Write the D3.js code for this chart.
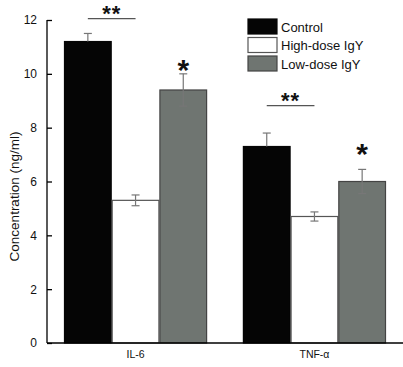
<!DOCTYPE html>
<html>
<head>
<meta charset="utf-8">
<script src="https://cdn.jsdelivr.net/npm/d3@7"></script>
<style>
  body { margin: 0; background: #fff; }
  svg { display: block; font-family: "Liberation Sans", Arial, sans-serif; }
</style>
</head>
<body>
<div id="chart"></div>
<script>
const groups = ["IL-6", "TNF-α"];
const series = ["Control", "High-dose IgY", "Low-dose IgY"];
const means = {
    "IL-6":  [11.2, 5.3, 9.4],
    "TNF-α": [7.3, 4.7, 6.0]
};
const errors = {
    "IL-6":  [0.3, 0.2, 0.6],
    "TNF-α": [0.5, 0.17, 0.45]
};
const yTicks = [0, 2, 4, 6, 8, 10, 12];
// significance: pair brackets (between two series) and single stars over one series
const brackets = [
    {group: "IL-6", from: 0, to: 1, level: 12.05, label: "**"},
    {group: "TNF-α", from: 0, to: 1, level: 8.82, label: "**"}
];
const singles = [
    {group: "IL-6", series: 2, level: 10.3, label: "*"},
    {group: "TNF-α", series: 2, level: 7.17, label: "*"}
];

const width = 403, height = 367;
const fills = ["#050505", "#ffffff", "#6f7571"];
const strokes = ["#050505", "#555", "#444"];

const svg = d3.select("#chart").append("svg")
    .attr("width", width)
    .attr("height", height);

const x0 = d3.scaleBand()
    .domain(groups)
    .range([47, 403])
    .paddingInner(0.2)
    .paddingOuter(0.095);

const x1 = d3.scaleBand()
    .domain(d3.range(series.length))
    .range([0, x0.bandwidth()]);

const y = d3.scaleLinear()
    .domain([0, 12])
    .range([343, 20]);

// bars
const g = svg.append("g");
groups.forEach(grp => {
    const gg = g.append("g").attr("transform", `translate(${x0(grp)},0)`);
    gg.selectAll("rect")
        .data(means[grp])
        .join("rect")
        .attr("x", (d, i) => x1(i) + 0.5)
        .attr("y", d => y(d))
        .attr("width", x1.bandwidth() - 1)
        .attr("height", d => y(0) - y(d))
        .attr("fill", (d, i) => fills[i])
        .attr("stroke", (d, i) => strokes[i])
        .attr("stroke-width", 1.2);

    // error bars
    means[grp].forEach((m, i) => {
        const cx = x1(i) + x1.bandwidth() / 2;
        const e = errors[grp][i];
        const lo = i === 0 ? m : m - e;
        gg.append("line")
            .attr("x1", cx).attr("x2", cx)
            .attr("y1", y(m + e)).attr("y2", y(lo))
            .attr("stroke", "#777").attr("stroke-width", 1.2);
        gg.append("line")
            .attr("x1", cx - 4).attr("x2", cx + 4)
            .attr("y1", y(m + e)).attr("y2", y(m + e))
            .attr("stroke", "#777").attr("stroke-width", 1.2);
        if (i !== 0) {
            gg.append("line")
                .attr("x1", cx - 4).attr("x2", cx + 4)
                .attr("y1", y(m - e)).attr("y2", y(m - e))
                .attr("stroke", "#777").attr("stroke-width", 1.2);
        }
    });
});

// axes
svg.append("g")
    .attr("transform", `translate(47,0)`)
    .call(d3.axisLeft(y).tickValues(yTicks).tickSize(-5).tickPadding(10).tickFormat(d3.format("d")))
    .call(a => a.select(".domain").attr("d", `M0,${y(12)}V${y(0)}`).attr("stroke", "#000").attr("stroke-width", 1.3))
    .call(a => a.selectAll(".tick line").attr("stroke", "#000").attr("stroke-width", 1.3))
    .call(a => a.selectAll(".tick text").attr("font-size", 12).attr("fill", "#111")
        .attr("font-family", "Liberation Sans, Arial, sans-serif"));

svg.append("g")
    .attr("transform", `translate(0,${y(0)})`)
    .call(d3.axisBottom(x0).tickSize(0).tickPadding(8))
    .call(a => a.select(".domain").attr("d", `M47,0H403`).attr("stroke", "#000").attr("stroke-width", 1.3))
    .call(a => a.selectAll(".tick text").attr("font-size", 10.5).attr("fill", "#111")
        .attr("font-family", "Liberation Sans, Arial, sans-serif"));

svg.append("text")
    .attr("transform", `translate(19,${(y(0) + y(12)) / 2 + 15}) rotate(-90)`)
    .attr("text-anchor", "middle")
    .attr("font-size", 13.5)
    .attr("fill", "#111")
    .text("Concentration (ng/ml)");

// significance marks
brackets.forEach(b => {
    const xa = x0(b.group) + x1(b.from) + x1.bandwidth() / 2;
    const xb = x0(b.group) + x1(b.to) + x1.bandwidth() / 2;
    svg.append("line")
        .attr("x1", xa).attr("x2", xb)
        .attr("y1", y(b.level)).attr("y2", y(b.level))
        .attr("stroke", "#555").attr("stroke-width", 1.2);
    svg.append("text")
        .attr("x", (xa + xb) / 2)
        .attr("y", y(b.level) + 2)
        .attr("text-anchor", "middle")
        .attr("font-size", 22)
        .attr("font-weight", "bold")
        .attr("letter-spacing", 1)
        .attr("fill", "#111")
        .text(b.label);
});
singles.forEach(s => {
    const cx = x0(s.group) + x1(s.series) + x1.bandwidth() / 2;
    svg.append("text")
        .attr("x", cx)
        .attr("y", y(s.level) + 14)
        .attr("text-anchor", "middle")
        .attr("font-size", 30)
        .attr("font-weight", "bold")
        .attr("fill", "#111")
        .text(s.label);
});

// legend
const legend = svg.append("g").attr("transform", "translate(248,19)");
series.forEach((s, i) => {
    const row = legend.append("g").attr("transform", `translate(0,${i * 18.5})`);
    row.append("rect")
        .attr("width", 29).attr("height", 15)
        .attr("fill", fills[i])
        .attr("stroke", strokes[i]).attr("stroke-width", 1.2);
    row.append("text")
        .attr("x", 33).attr("y", 12.5)
        .attr("font-size", 13)
        .attr("fill", "#111")
        .text(s);
});
</script>
</body>
</html>
